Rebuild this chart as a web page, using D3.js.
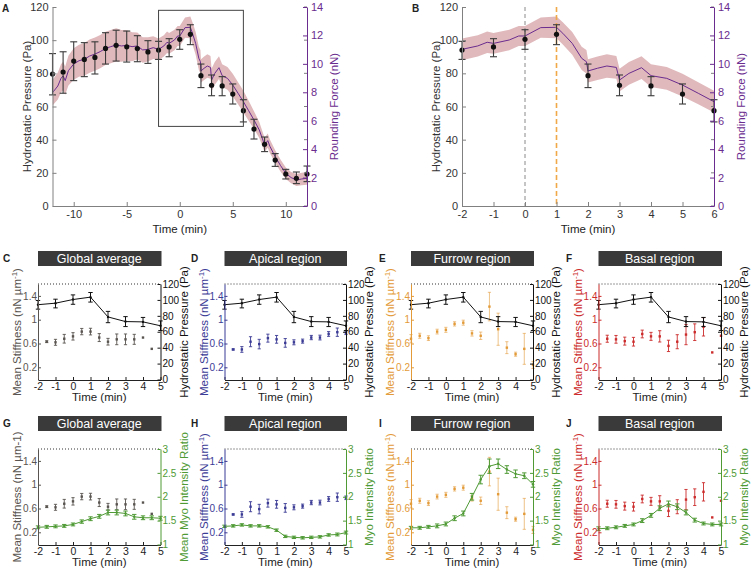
<!DOCTYPE html>
<html><head><meta charset="utf-8">
<script src="https://cdn.jsdelivr.net/npm/d3@7"></script>
<style>body{margin:0;background:#fff}svg{font-family:"Liberation Sans",Arial,Helvetica,sans-serif}</style>
</head><body><svg id="c" width="751" height="570"></svg>
<script>
// ---------------- DATA ----------------
const pressureTime = [-12,-11,-10,-9,-8,-7,-6,-5,-4,-3,-2,-1,0,1,2,3,4,5,6,7,8,9,10,11,12];
const pressure     = [79.6,80.8,87.4,88.4,89.6,95.0,96.9,96.0,94.9,92.9,94.0,95.9,100.5,103.5,78.6,72.8,72.4,67.5,57.5,46.4,37.2,27.7,19.3,16.7,19.3];
const pressureLow  = [67,68,75.6,78,79.6,85.6,87.4,86.8,87,86,88.4,90,94.5,97.3,71.4,66.5,66.5,61.5,50.7,40.4,32.8,23.9,16.3,13.5,14.7];
const pressureHigh = [91.9,93,99,98.5,99,104.5,106,105.5,102.7,99.7,99.3,100.9,106.3,109.3,85.6,79,78,73.6,64.1,52.3,41.6,31.6,22.1,20.5,24.1];

const forceTime = [-12,-11.5,-11.2,-11,-10.8,-10.5,-10,-9.5,-9,-8.5,-8,-7.5,-7,-6.5,-6,-5.5,-5,-4.5,-4,-3.5,-3,-2.5,-2,-1.5,-1.2,-1,-0.5,-0.2,0,0.5,1,1.2,1.5,1.8,1.95,2,2.3,2.6,2.9,3,3.3,3.7,4,4.5,5,5.5,6,6.5,7,7.5,8,8.3,8.5,9,9.5,10,10.5,11,11.5,12];
const force = [7.97,8.44,8.98,9.15,8.82,9.52,9.99,10.22,10.32,10.55,10.69,10.86,11.09,11.21,11.33,11.26,11.30,11.21,11.26,10.98,11.02,11.14,11.02,11.26,11.52,11.44,11.68,11.96,11.96,12.55,12.57,12.15,11.44,10.39,10.15,9.5,9.69,9.85,9.75,8.86,9.33,9.73,9.17,8.98,8.51,7.93,7.34,6.7,6.05,5.35,4.3,4.6,4.2,3.47,2.85,2.3,2.0,1.83,1.9,1.95];
const forceErr = [0.9,0.95,1.0,1.0,1.0,1.05,1.1,1.12,1.15,1.17,1.17,1.17,1.17,1.17,1.17,1.12,1.08,1.02,0.95,0.9,0.85,0.8,0.77,0.75,0.75,0.73,0.72,0.7,0.7,0.72,0.76,0.78,0.8,0.82,0.82,0.82,0.82,0.82,0.8,0.8,0.8,0.8,0.8,0.8,0.8,0.78,0.76,0.7,0.62,0.56,0.5,0.5,0.48,0.45,0.42,0.4,0.4,0.42,0.44,0.45];

const zoomWindowTime = [-2, 6];
const zoomWindowPressure = [48, 118];
const markerTimes = [0, 1];

const sampleTime = [-2,-1.5,-1,-0.5,0,0.5,1,1.5,2,2.5,3,3.5,4,4.5,5];
const stiffGlobal    = [null,0.63,0.62,0.68,0.72,0.80,0.80,0.70,0.63,0.67,0.67,0.67,0.70,0.51,null];
const stiffGlobalErr = [0,0.015,0.05,0.073,0.062,0.053,0.056,0.067,0.056,0.09,0.09,0.084,0,0,0];
const stiffApical    = [null,0.50,0.50,0.63,0.59,0.69,0.67,0.61,0.62,0.64,0.70,0.70,0.76,0.79,0.78];
const stiffApicalErr = [0,0.01,0.048,0.084,0.08,0.067,0.065,0.073,0.042,0.034,0.036,0.04,0.04,0.07,0.03];
const stiffFurrow    = [0.68,0.73,0.69,0.80,0.83,0.93,0.95,0.77,0.73,1.22,0.84,0.53,0.42,0.51,0.24];
const stiffFurrowErr = [0.07,0.042,0.04,0.04,0.042,0.036,0.042,0.045,0.062,0.24,0.27,0.10,0.034,0.26,0.06];
const stiffBasal     = [null,0.68,0.67,0.64,0.63,0.76,0.72,0.72,0.56,0.63,0.75,0.79,0.88,0.45,0.73];
const stiffBasalErr  = [0,0.059,0.065,0.067,0.073,0.065,0.067,0.095,0.095,0.118,0.17,0.14,0.154,0,0];

const myoGlobal    = [1.36,1.37,1.38,1.39,1.42,1.48,1.54,1.59,1.67,1.67,1.65,1.58,1.56,1.56,1.55];
const myoGlobalErr = [0.03,0.03,0.03,0.03,0.03,0.035,0.04,0.04,0.05,0.05,0.05,0.05,0.04,0.04,0.04];
const myoApical    = [1.38,1.39,1.41,1.39,1.39,1.37,1.30,1.17,1.15,1.14,1.15,1.16,1.20,1.21,1.25];
const myoApicalErr = [0.025,0.025,0.025,0.025,0.025,0.025,0.025,0.025,0.025,0.025,0.025,0.025,0.025,0.03,0.03];
const myoFurrow    = [1.35,1.35,1.37,1.39,1.43,1.55,1.65,2.00,2.36,2.64,2.69,2.57,2.48,2.44,2.26];
const myoFurrowErr = [0.03,0.03,0.03,0.04,0.04,0.05,0.05,0.07,0.09,0.15,0.1,0.08,0.08,0.06,0.06];
const myoBasal     = [1.33,1.34,1.36,1.39,1.42,1.50,1.61,1.76,1.85,1.79,1.67,1.51,1.44,1.42,1.42];
const myoBasalErr  = [0.04,0.03,0.03,0.03,0.03,0.04,0.04,0.05,0.06,0.06,0.05,0.04,0.03,0.03,0.03];

const pressureTicks = [0,20,40,60,80,100,120];
const forceTicks = [0,2,4,6,8,10,12,14];
const timeTicksA = [-10,-5,0,5,10];
const timeTicksB = [-2,-1,0,1,2,3,4,5,6];
const timeTicksRow = [-2,-1,0,1,2,3,4,5];
const stiffTicks = [0.2,0.6,1,1.4];
const myoTicks = [1,1.5,2,2.5,3];

// ---------------- HELPERS ----------------
const svg = d3.select('#c');
const PURPLE = '#6a2c8e', BAND = '#e0b9bc', GREEN = '#4f9a35';
const fmt = d => String(d);

function styleAxis(g, color, fs, textColor) {
  g.attr('font-family', null).attr('font-size', fs);
  g.select('.domain').attr('stroke', color).attr('stroke-width', 1);
  g.selectAll('.tick line').attr('stroke', color);
  g.selectAll('.tick text').attr('fill', textColor || color);
}
function vlabel(x, y, text, color, fs) {
  return svg.append('text').attr('transform', `translate(${x},${y}) rotate(-90)`)
    .attr('text-anchor', 'middle').attr('dy', '0.35em').attr('fill', color).attr('font-size', fs).text(text);
}
function errBars(g, pts, x, y, color, cap, sw, op) {
  const s = g.append('g').attr('stroke', color).attr('stroke-width', sw).attr('stroke-opacity', op || 1);
  pts.forEach(d => {
    if (!(d.hi > d.lo)) return;
    const cx = x(d.t);
    s.append('line').attr('x1', cx).attr('x2', cx).attr('y1', y(d.lo)).attr('y2', y(d.hi));
    s.append('line').attr('x1', cx - cap).attr('x2', cx + cap).attr('y1', y(d.lo)).attr('y2', y(d.lo));
    s.append('line').attr('x1', cx - cap).attr('x2', cx + cap).attr('y1', y(d.hi)).attr('y2', y(d.hi));
  });
}
const pressurePts = pressureTime.map((t, i) => ({t, v: pressure[i], lo: pressureLow[i], hi: pressureHigh[i]}));
const forcePts = forceTime.map((t, i) => ({t, v: force[i], e: forceErr[i]}));

// ---------------- PANELS A & B ----------------
function bigPanel(opt) {
  const x = d3.scaleLinear().domain(opt.xd).range([opt.x0, opt.x1]);
  const y = d3.scaleLinear().domain([0, 120]).range([206, 7]);
  const yr = d3.scaleLinear().domain([0, 14]).range([206, 7]);
  const clipId = 'clip' + opt.letter;
  svg.append('clipPath').attr('id', clipId).append('rect')
    .attr('x', opt.x0).attr('y', 0).attr('width', opt.x1 - opt.x0).attr('height', 206);
  const g = svg.append('g').attr('clip-path', `url(#${clipId})`);
  const fp = forcePts.filter(d => d.t >= opt.xd[0] - 0.5 && d.t <= opt.xd[1] + 0.5);
  g.append('path').datum(fp).attr('fill', BAND)
    .attr('d', d3.area().x(d => x(d.t)).y0(d => yr(d.v - d.e)).y1(d => yr(d.v + d.e)));
  if (opt.markers) {
    svg.append('line').attr('x1', x(markerTimes[0])).attr('x2', x(markerTimes[0])).attr('y1', 7).attr('y2', 206)
      .attr('stroke', '#8a8a8a').attr('stroke-width', 1).attr('stroke-dasharray', '4,3');
    svg.append('line').attr('x1', x(markerTimes[1])).attr('x2', x(markerTimes[1])).attr('y1', 7).attr('y2', 206)
      .attr('stroke', '#f0a848').attr('stroke-width', 1.6).attr('stroke-dasharray', '5,3');
  }
  g.append('path').datum(fp).attr('fill', 'none').attr('stroke', PURPLE).attr('stroke-width', 1)
    .attr('d', d3.line().x(d => x(d.t)).y(d => yr(d.v)));
  const pp = pressurePts.filter(d => d.t >= opt.xd[0] && d.t <= opt.xd[1]);
  errBars(svg, pp, x, y, '#3a3a3a', 3.5, 1.1);
  svg.append('g').selectAll('circle').data(pp).join('circle')
    .attr('cx', d => x(d.t)).attr('cy', d => y(d.v)).attr('r', 2.6).attr('fill', '#111');
  if (opt.box) {
    svg.append('rect').attr('x', x(zoomWindowTime[0])).attr('y', y(zoomWindowPressure[1]))
      .attr('width', x(zoomWindowTime[1]) - x(zoomWindowTime[0]))
      .attr('height', y(zoomWindowPressure[0]) - y(zoomWindowPressure[1]))
      .attr('fill', 'none').attr('stroke', '#444').attr('stroke-width', 1);
  }
  // axes
  const ax = svg.append('g').attr('transform', 'translate(0,206)')
    .call(d3.axisBottom(x).tickValues(opt.xt).tickFormat(fmt).tickSize(-4).tickSizeOuter(0).tickPadding(4));
  styleAxis(ax, '#808080', 11, '#333');
  const al = svg.append('g').attr('transform', `translate(${opt.x0},0)`)
    .call(d3.axisLeft(y).tickValues(pressureTicks).tickFormat(fmt).tickSize(-4).tickSizeOuter(0).tickPadding(4));
  styleAxis(al, '#808080', 11, '#333');
  svg.append('g').selectAll('line').data(pressureTicks).join('line')
    .attr('x1', opt.x1 - 3).attr('x2', opt.x1).attr('y1', d => y(d)).attr('y2', d => y(d))
    .attr('stroke', '#808080');
  const ar = svg.append('g').attr('transform', `translate(${opt.x1},0)`)
    .call(d3.axisRight(yr).tickValues(forceTicks).tickFormat(fmt).tickSize(-4).tickSizeOuter(0).tickPadding(4));
  styleAxis(ar, PURPLE, 11);
  vlabel(opt.x0 - 26, 106.5, 'Hydrostatic Pressure (Pa)', '#333', 11.5);
  vlabel(opt.x1 + 27, 106.5, 'Rounding Force (nN)', PURPLE, 11.5);
  svg.append('text').attr('x', (opt.x0 + opt.x1) / 2).attr('y', 233).attr('text-anchor', 'middle')
    .attr('font-size', 11.5).attr('fill', '#222').text('Time (min)');
  svg.append('text').attr('x', opt.lx).attr('y', 12).attr('font-size', 10).attr('font-weight', 'bold')
    .attr('fill', '#222').text(opt.letter);
}
bigPanel({letter: 'A', lx: 2, x0: 52.5, x1: 307, xd: [-12, 12], xt: timeTicksA, box: true});
bigPanel({letter: 'B', lx: 412, x0: 462, x1: 714, xd: [-2, 6], xt: timeTicksB, markers: true});

// ---------------- ROW PANELS ----------------
const rows = [{yT: 284, yB: 380}, {yT: 449, yB: 545}];
const series = {
  global: {stiff: stiffGlobal, err: stiffGlobalErr, myo: myoGlobal, myoErr: myoGlobalErr, color: '#595450', title: 'Global average'},
  apical: {stiff: stiffApical, err: stiffApicalErr, myo: myoApical, myoErr: myoApicalErr, color: '#3b3b96', title: 'Apical region'},
  furrow: {stiff: stiffFurrow, err: stiffFurrowErr, myo: myoFurrow, myoErr: myoFurrowErr, color: '#e39a38', title: 'Furrow region'},
  basal:  {stiff: stiffBasal, err: stiffBasalErr, myo: myoBasal, myoErr: myoBasalErr, color: '#cc2b2b', title: 'Basal region'}
};
const cols = [{x0: 38, x1: 160.5, key: 'global'}, {x0: 224.5, x1: 346, key: 'apical'},
              {x0: 411, x1: 533, key: 'furrow'}, {x0: 598.5, x1: 721, key: 'basal'}];
const letters = [['C','D','E','F'], ['G','H','I','J']];
const letterX = [3, 191, 379, 566];

function rowPanel(ri, ci) {
  const {yT, yB} = rows[ri];
  const {x0, x1, key} = cols[ci];
  const s = series[key];
  const x = d3.scaleLinear().domain([-2, 5]).range([x0, x1]);
  const yl = d3.scaleLinear().domain([0, 1.6]).range([yB - 0.8, yT]);
  svg.append('rect').attr('x', x0).attr('y', yT - 33).attr('width', x1 - x0 + 1).attr('height', 15).attr('fill', '#3a3a3a');
  svg.append('text').attr('x', (x0 + x1) / 2).attr('y', yT - 21.5).attr('text-anchor', 'middle')
    .attr('fill', '#fff').attr('font-size', 12.5).text(s.title);
  svg.append('text').attr('x', letterX[ci]).attr('y', yT - 22).attr('font-size', 10).attr('font-weight', 'bold')
    .attr('fill', '#222').text(letters[ri][ci]);
  svg.append('line').attr('x1', x0).attr('x2', x1).attr('y1', yT).attr('y2', yT)
    .attr('stroke', '#333').attr('stroke-dasharray', '1,2');
  let yr, rColor, rLabel, rTicks;
  if (ri === 0) {
    yr = d3.scaleLinear().domain([0, 120]).range([yB - 0.5, yT]);
    rColor = '#111'; rLabel = 'Hydrostatic Pressure (Pa)'; rTicks = pressureTicks;
  } else {
    yr = d3.scaleLinear().domain([1, 3]).range([yB - 0.5, yT]);
    rColor = GREEN; rLabel = ci === 0 ? 'Mean Myo Intensity Ratio' : 'Myo Intensity Ratio'; rTicks = myoTicks;
  }
  const sp = sampleTime.map((t, i) => ({t, v: s.stiff[i], lo: s.stiff[i] - s.err[i], hi: s.stiff[i] + s.err[i]}))
    .filter(d => d.v !== null);
  errBars(svg, sp, x, yl, s.color, 1.6, 1, key === 'furrow' ? 0.6 : 0.9);
  svg.append('g').selectAll('rect').data(sp).join('rect')
    .attr('x', d => x(d.t) - 1.2).attr('y', d => yl(d.v) - 1.2).attr('width', 2.4).attr('height', 2.4)
    .attr('fill', s.color);
  let rp;
  if (ri === 0) {
    rp = pressurePts.filter(d => d.t >= -2 && d.t <= 5);
  } else {
    rp = sampleTime.map((t, i) => ({t, v: s.myo[i], lo: s.myo[i] - s.myoErr[i], hi: s.myo[i] + s.myoErr[i]}));
  }
  svg.append('path').datum(rp).attr('fill', 'none').attr('stroke', rColor).attr('stroke-width', 1)
    .attr('d', d3.line().x(d => x(d.t)).y(d => yr(d.v)));
  errBars(svg, rp, x, yr, rColor, 2.2, 1);
  svg.append('g').selectAll('circle').data(rp).join('circle')
    .attr('cx', d => x(d.t)).attr('cy', d => yr(d.v)).attr('r', 1.2).attr('fill', rColor);
  const ax = svg.append('g').attr('transform', `translate(0,${yB})`)
    .call(d3.axisBottom(x).tickValues(timeTicksRow).tickFormat(fmt).tickSize(-3).tickSizeOuter(0).tickPadding(3));
  styleAxis(ax, '#222', 10.5, '#222');
  const al = svg.append('g').attr('transform', `translate(${x0},0)`)
    .call(d3.axisLeft(yl).tickValues(stiffTicks).tickFormat(fmt).tickSize(-3).tickSizeOuter(0).tickPadding(1));
  styleAxis(al, s.color, 10);
  const ar = svg.append('g').attr('transform', `translate(${x1},0)`)
    .call(d3.axisRight(yr).tickValues(rTicks).tickFormat(fmt).tickSize(-3).tickSizeOuter(0).tickPadding(2));
  styleAxis(ar, rColor, 10);
  const lt = svg.append('text').attr('transform', `translate(${x0 - 21},${(yT + yB) / 2}) rotate(-90)`)
    .attr('text-anchor', 'middle').attr('dy', '0.35em').attr('fill', s.color).attr('font-size', 11.5);
  if (ri === 1 && ci === 0) {
    lt.text('Mean Stiffness (nN µm-1)');
  } else {
    lt.append('tspan').text('Mean Stiffness (nN µm');
    lt.append('tspan').attr('dy', -4).attr('font-size', 8).text('-1');
    lt.append('tspan').attr('dy', 4).text(')');
  }
  vlabel(x1 + 23, (yT + yB) / 2, rLabel, rColor, 11.5);
  svg.append('text').attr('x', (x0 + x1) / 2).attr('y', yB + 21).attr('text-anchor', 'middle')
    .attr('font-size', 11.5).attr('fill', '#222').text('Time (min)');
}
for (let ri = 0; ri < 2; ri++) for (let ci = 0; ci < 4; ci++) rowPanel(ri, ci);
</script></body></html>
